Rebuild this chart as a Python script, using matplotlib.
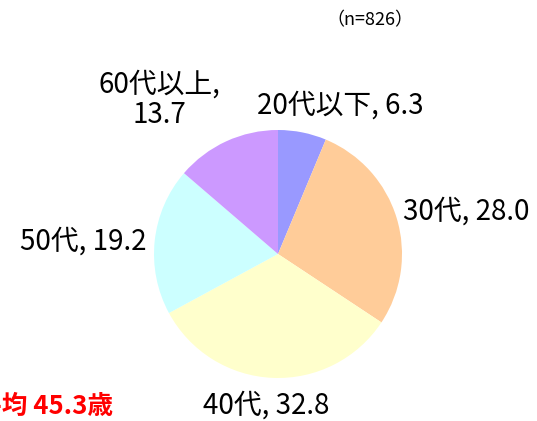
import matplotlib
matplotlib.use("Agg")
import matplotlib.pyplot as plt
import numpy as np

plt.rcParams['font.family'] = ['Noto Sans CJK JP', 'DejaVu Sans']

categories = ["20代以下", "30代", "40代", "50代", "60代以上"]
values = [6.3, 28.0, 32.8, 19.2, 13.7]
colors = ["#9999FF", "#FFCC99", "#FFFFCC", "#CCFFFF", "#CC99FF"]
n_text = "（n=826）"
avg_text = "平均 45.3歳"

W, H = 537, 421
fig = plt.figure(figsize=(W / 100, H / 100), dpi=100)
cx, cy, r = 278, 254, 124
ax = fig.add_axes([(cx - r) / W, (H - cy - r) / H, 2 * r / W, 2 * r / H])
ax.pie(values, colors=colors, startangle=90, counterclock=False, radius=1,
       wedgeprops=dict(linewidth=0))
ax.set_xlim(-1, 1)
ax.set_ylim(-1, 1)
ax.set_aspect('equal')
ax.axis('off')

# label positions in pixel coordinates with alignment
label_pos = [
    (340, 106, 'center', "{c}, {v:.1f}"),
    (403, 212, 'left', "{c}, {v:.1f}"),
    (266, 406, 'center', "{c}, {v:.1f}"),
    (147, 242, 'right', "{c}, {v:.1f}"),
    (159, 100, 'center', "{c},\n{v:.1f}"),
]
fs = 20
for (px, py, ha, fmt), c, v in zip(label_pos, categories, values):
    fig.text(px / W, 1 - py / H, fmt.format(c=c, v=v), ha=ha, va='center',
             fontsize=fs, color='black', linespacing=1.0)

fig.text(370 / W, 1 - 20 / H, n_text, ha='center', va='center', fontsize=13)
fig.text(113 / W, 1 - 406 / H, avg_text, ha='right', va='center',
         fontsize=18.5, color='#FF0000', fontweight='bold')

fig.savefig("out.png", dpi=100)
